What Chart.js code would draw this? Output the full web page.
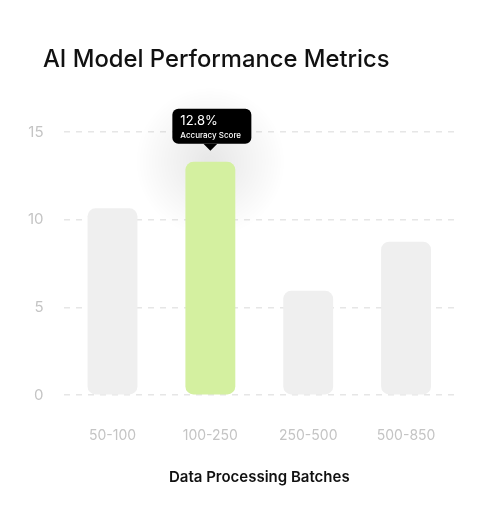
<!DOCTYPE html>
<html>
<head>
<meta charset="utf-8">
<script src="https://cdn.jsdelivr.net/npm/chart.js@4"></script>
<style>
  body { margin: 0; background: #fff; font-family: Inter, sans-serif; }
  #wrap { position: relative; width: 482px; height: 510px; }
  #title { position: absolute; left: 43px; top: 44px; font-size: 23.8px; color: #111; font-weight: 500; }
</style>
</head>
<body>
<div id="wrap">
  <div id="title">AI Model Performance Metrics</div>
  <canvas id="chart" width="482" height="510"></canvas>
</div>
<script>
"use strict"

const categories = ["50-100", "100-250", "250-500", "500-850"];
const values = [10.65, 13.3, 5.95, 8.75];
const highlightIndex = 1;
const tooltipValue = "12.8%";
const tooltipLabel = "Accuracy Score";

// glow + callout over the highlighted bar
const calloutPlugin = {
  id: 'callout',
  beforeDatasetsDraw(chart) {
    const bar = chart.getDatasetMeta(0).data[highlightIndex];
    const ctx = chart.ctx;
    ctx.save();
    const g = ctx.createRadialGradient(bar.x, bar.y, 5, bar.x, bar.y, 75);
    g.addColorStop(0, 'rgba(0,0,0,0.09)');
    g.addColorStop(1, 'rgba(0,0,0,0)');
    ctx.fillStyle = g;
    ctx.fillRect(bar.x - 80, bar.y - 80, 160, 160);
    ctx.restore();
  },
  afterDatasetsDraw(chart) {
    const bar = chart.getDatasetMeta(0).data[highlightIndex];
    const ctx = chart.ctx;
    const w = 79, h = 35, tip = bar.y - 11;
    const x = bar.x - 38, y = tip - 7 - h;
    ctx.save();
    ctx.fillStyle = '#000';
    ctx.beginPath();
    ctx.roundRect(x, y, w, h, 6);
    ctx.fill();
    ctx.beginPath();
    ctx.moveTo(bar.x - 7, y + h);
    ctx.lineTo(bar.x + 7, y + h);
    ctx.lineTo(bar.x, tip);
    ctx.closePath();
    ctx.fill();
    ctx.fillStyle = '#fff';
    ctx.textBaseline = 'alphabetic';
    ctx.font = '13px Inter';
    ctx.fillText(tooltipValue, x + 8, y + 16);
    ctx.font = '500 8px Inter';
    ctx.fillText(tooltipLabel, x + 8, y + 29);
    ctx.restore();
  }
};

new Chart(document.getElementById('chart'), {
  type: 'bar',
  data: {
    labels: categories,
    datasets: [{
      data: values,
      backgroundColor: values.map((v, i) => i === highlightIndex ? '#d4f0a0' : '#efefef'),
      borderRadius: 8,
      borderSkipped: false,
      barPercentage: 0.51,
      categoryPercentage: 1
    }]
  },
  options: {
    responsive: false,
    animation: false,
    layout: { padding: { top: 132, right: 27, left: 8, bottom: 24 } },
    plugins: { legend: { display: false }, tooltip: { enabled: false } },
    scales: {
      x: {
        grid: { display: false },
        border: { display: false },
        ticks: { color: '#c4c4c4', font: { family: 'Inter', size: 14 }, padding: 24 },
        title: { display: true, text: 'Data Processing Batches', color: '#111',
                 font: { family: 'Inter', size: 15, weight: '600' }, padding: { top: 0, bottom: 0 } }
      },
      y: {
        min: 0, max: 15,
        grid: { color: '#e6e6e6', lineWidth: 1.5, drawTicks: false },
        border: { display: false, dash: [6, 6] },
        ticks: { stepSize: 5, color: '#c4c4c4', font: { family: 'Inter', size: 15 }, padding: 20 }
      }
    }
  },
  plugins: [calloutPlugin]
});
</script>
</body>
</html>
